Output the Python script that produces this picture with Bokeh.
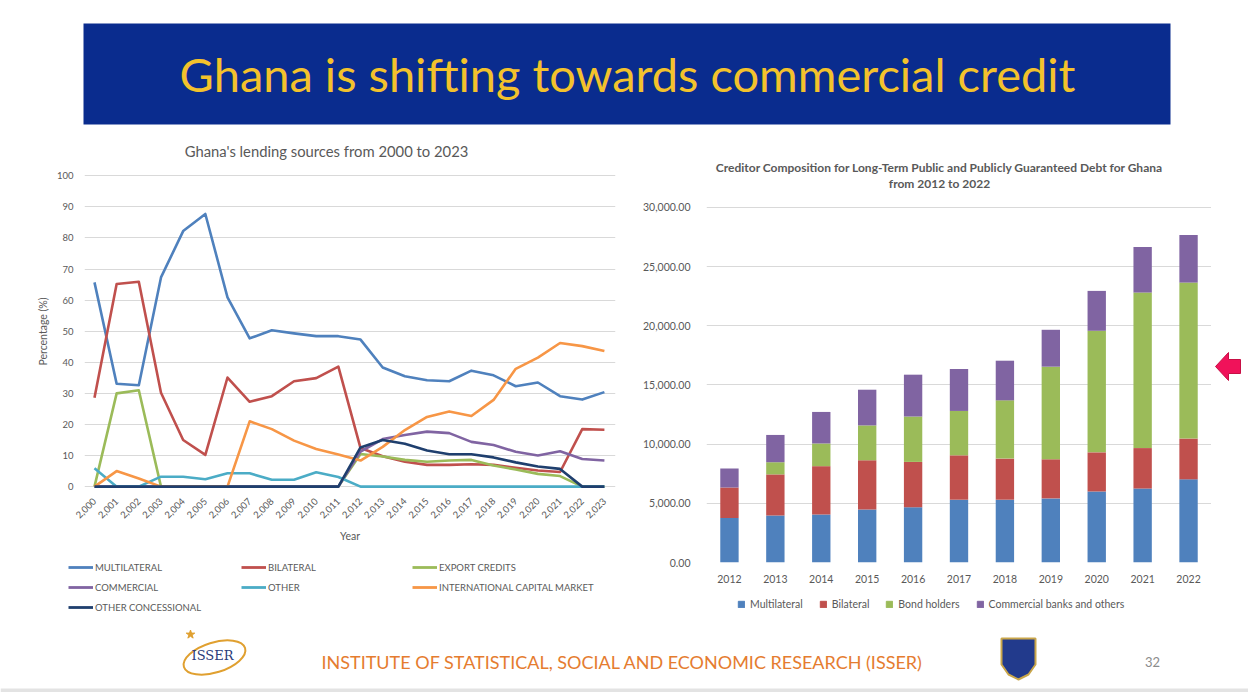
import math
from bokeh.plotting import figure
from bokeh.models import (Range1d, Legend, LegendItem, NumeralTickFormatter,
                          FixedTicker, ColumnDataSource, FactorRange)
from bokeh.layouts import column, row
from bokeh.embed import file_html
from bokeh.resources import INLINE
from bokeh.core.properties import value

# ---------------- data: left chart (percent of lending) ----------------
years = list(range(2000, 2024))
multilateral = [65.7, 33.1, 32.6, 67.3, 82.2, 87.7, 60.9, 47.7, 50.3, 49.3, 48.4, 48.4,
                47.3, 38.3, 35.5, 34.2, 33.9, 37.3, 35.8, 32.3, 33.5, 29.1, 28.0, 30.4]
bilateral = [28.6, 65.2, 65.9, 30.2, 15.0, 10.2, 35.1, 27.3, 29.1, 33.9, 34.9, 38.6,
             12.4, 9.8, 8.0, 7.0, 7.0, 7.2, 7.0, 6.1, 5.2, 4.7, 18.5, 18.3]
export_credits = [0.0, 30.0, 31.0, 0.0, 0.0, 0.0, 0.0, 0.0, 0.0, 0.0, 0.0, 0.0,
                  10.5, 9.7, 8.6, 8.0, 8.4, 8.6, 6.8, 5.5, 4.1, 3.4, 0.0, 0.0]
commercial = [0.0, 0.0, 0.0, 0.0, 0.0, 0.0, 0.0, 0.0, 0.0, 0.0, 0.0, 0.0,
              11.3, 15.3, 16.6, 17.7, 17.2, 14.4, 13.4, 11.2, 10.0, 11.4, 8.9, 8.4]
other = [5.9, 0.0, 0.0, 3.2, 3.2, 2.4, 4.3, 4.3, 2.2, 2.2, 4.6, 3.1,
         0.0, 0.0, 0.0, 0.0, 0.0, 0.0, 0.0, 0.0, 0.0, 0.0, 0.0, 0.0]
intl_capital_market = [0.0, 5.0, 2.6, 0.0, 0.0, 0.0, 0.0, 21.0, 18.5, 14.8, 12.1, 10.3,
                       8.4, 12.8, 18.2, 22.4, 24.2, 22.7, 27.9, 37.9, 41.5, 46.2, 45.2, 43.6]
other_concessional = [0.0, 0.0, 0.0, 0.0, 0.0, 0.0, 0.0, 0.0, 0.0, 0.0, 0.0, 0.0,
                      12.6, 15.0, 13.8, 11.6, 10.4, 10.4, 9.4, 7.8, 6.5, 5.7, 0.0, 0.0]
left_y_ticks = [0, 10, 20, 30, 40, 50, 60, 70, 80, 90, 100]

# ---------------- data: right chart (stacked bars) ----------------
bar_years = ["2012", "2013", "2014", "2015", "2016", "2017", "2018", "2019", "2020", "2021", "2022"]
bar_multilateral = [3750, 3975, 4058, 4475, 4667, 5306, 5306, 5417, 6000, 6250, 7028]
bar_bilateral = [2583, 3469, 4081, 4164, 3833, 3750, 3472, 3305, 3306, 3417, 3444]
bar_bond_holders = [0, 1028, 1917, 2944, 3833, 3750, 4922, 7823, 10273, 13142, 13180]
bar_commercial = [1611, 2306, 2666, 3017, 3537, 3542, 3351, 3118, 3370, 3848, 4017]
right_y_ticks = [0, 5000, 10000, 15000, 20000, 25000, 30000]

FONT = "Lato"
GREY = "#595959"


def blank(w, h, xr, yr):
    f = figure(width=w, height=h, x_range=Range1d(*xr), y_range=Range1d(*yr),
               output_backend="svg", toolbar_location=None, min_border=0,
               x_axis_location=None, y_axis_location=None, frame_align=False)
    f.grid.visible = False
    f.outline_line_color = None
    return f


# ---------------- top banner ----------------
top = blank(1248, 132, (0, 1248), (0, 132))
top.quad(left=[83], right=[1170], bottom=[8], top=[109], color="#0A2C8E", line_color=None)
top.text(x=[627], y=[59], text=["Ghana is shifting towards commercial credit"],
         text_align="center", text_baseline="middle", text_color="#F3C22C",
         text_font=value(FONT), text_font_size="47px")

# ---------------- left line chart ----------------
tL = blank(630, 30, (0, 630), (0, 30))
tL.text(x=[326], y=[12], text=["Ghana's lending sources from 2000 to 2023"],
        text_align="center", text_baseline="middle", text_color=GREY,
        text_font=value(FONT), text_font_size="14.8px")

pL = figure(width=630, height=390, x_range=Range1d(1999.55, 2023.5), y_range=Range1d(-0.6, 100.4),
            output_backend="svg", toolbar_location=None, frame_align=False, title=None,
            min_border_left=84, min_border_right=15, min_border_top=12, min_border_bottom=64)
pL.outline_line_color = None
pL.xgrid.visible = False
pL.ygrid.grid_line_color = "#D9D9D9"
pL.yaxis.ticker = FixedTicker(ticks=left_y_ticks)
pL.xaxis.ticker = FixedTicker(ticks=years)
pL.xaxis.formatter = NumeralTickFormatter(format="0,0")
pL.xaxis.major_label_orientation = math.pi / 4
pL.xaxis.axis_label = "Year"
pL.yaxis.axis_label = "Percentage (%)"
for ax in (pL.xaxis[0], pL.yaxis[0]):
    ax.axis_line_color = None
    ax.major_tick_line_color = None
    ax.minor_tick_line_color = None
    ax.major_label_text_font = FONT
    ax.major_label_text_font_size = "9.5px"
    ax.major_label_text_color = GREY
    ax.axis_label_text_font = FONT
    ax.axis_label_text_font_size = "10.5px"
    ax.axis_label_text_font_style = "normal"
    ax.axis_label_text_color = GREY

series = [
    ("MULTILATERAL", multilateral, "#4F81BD"),
    ("BILATERAL", bilateral, "#C0504D"),
    ("EXPORT CREDITS", export_credits, "#9BBB59"),
    ("COMMERCIAL", commercial, "#8064A2"),
    ("OTHER", other, "#4BACC6"),
    ("INTERNATIONAL CAPITAL MARKET", intl_capital_market, "#F79646"),
    ("OTHER CONCESSIONAL", other_concessional, "#1F3F6E"),
]
for name, vals, col in series:
    pL.line(years, vals, line_color=col, line_width=2.6, line_join="round")

# legend strip under the left chart (three columns placed like the original);
# its swatches come from off-screen proxy renderers of the same styles
legL = blank(630, 68, (0, 1), (0, 1))
proxy = {}
for name, vals, col in series:
    proxy[name] = legL.line(x=[-10, -9], y=[-10, -9], line_color=col, line_width=2.8)


def mk_legend(names, loc):
    return Legend(items=[LegendItem(label=n, renderers=[proxy[n]]) for n in names],
                  location=loc, orientation="vertical", border_line_color=None,
                  background_fill_alpha=0, padding=0, margin=0, spacing=0,
                  label_height=20, glyph_height=20, glyph_width=25, label_standoff=2,
                  label_text_font=FONT, label_text_font_size="9.5px", label_text_color=GREY)


legL.add_layout(mk_legend(["MULTILATERAL", "COMMERCIAL", "OTHER CONCESSIONAL"], (68, 3)))
legL.add_layout(mk_legend(["BILATERAL", "OTHER"], (241, 23)))
legL.add_layout(mk_legend(["EXPORT CREDITS", "INTERNATIONAL CAPITAL MARKET"], (412, 23)))

# ---------------- right stacked bar chart ----------------
tR = blank(581, 60, (0, 581), (0, 60))
tR.text(x=[309, 309], y=[25, 9],
        text=["Creditor Composition for Long-Term Public and Publicly Guaranteed Debt for Ghana",
              "from 2012 to 2022"],
        text_align="center", text_baseline="middle", text_color=GREY,
        text_font=value(FONT), text_font_size="12px", text_font_style="bold")

src = ColumnDataSource(dict(year=bar_years, multi=bar_multilateral, bil=bar_bilateral,
                            bond=bar_bond_holders, comm=bar_commercial))
pR = figure(width=581, height=403, x_range=FactorRange(*bar_years), y_range=Range1d(0, 30080),
            output_backend="svg", toolbar_location=None, frame_align=False, title=None,
            min_border_left=76, min_border_right=0, min_border_top=14, min_border_bottom=33)
pR.outline_line_color = None
pR.xgrid.visible = False
pR.ygrid.grid_line_color = "#D9D9D9"
pR.yaxis.ticker = FixedTicker(ticks=right_y_ticks)
pR.yaxis.formatter = NumeralTickFormatter(format="0,0.00")
for ax in (pR.xaxis[0], pR.yaxis[0]):
    ax.axis_line_color = None
    ax.major_tick_line_color = None
    ax.minor_tick_line_color = None
    ax.major_label_text_font = FONT
    ax.major_label_text_font_size = "10.5px"
    ax.major_label_text_color = GREY
pR.xaxis.major_label_standoff = 6
pR.yaxis.major_label_standoff = 10

bar_names = ["Multilateral", "Bilateral", "Bond holders", "Commercial banks and others"]
bar_cols = ["#4F81BD", "#C0504D", "#9BBB59", "#8064A2"]
pR.vbar_stack(["multi", "bil", "bond", "comm"], x="year", width=0.4, source=src,
              color=bar_cols, line_color=None)

legR = blank(581, 25, (0, 1), (0, 1))
proxR = [legR.vbar(x=[-10], top=[-9], bottom=-10, width=0.4, color=c) for c in bar_cols]
legR.add_layout(Legend(items=[LegendItem(label=n, renderers=[r]) for n, r in zip(bar_names, proxR)],
                       location=(107, 9), orientation="horizontal", border_line_color=None,
                       background_fill_alpha=0, padding=0, margin=0, spacing=16,
                       label_height=14, glyph_height=8, glyph_width=8, label_standoff=5,
                       label_text_font=FONT, label_text_font_size="10.5px", label_text_color=GREY))

# ---------------- red arrow beside the chart ----------------
pA = blank(37, 488, (0, 37), (0, 488))
pA.patch([4, 17, 17, 29, 29, 17, 17], [254, 268, 261, 261, 247, 247, 240],
         fill_color="#F0125A", line_color="#C70F45", line_width=1)

# ---------------- footer ----------------
foot = blank(1248, 72, (0, 1248), (0, 72))
foot.quad(left=[0], right=[1248], bottom=[0], top=[4], color="#E3E3E3", line_color=None)
foot.text(x=[622], y=[31], text=["INSTITUTE OF STATISTICAL, SOCIAL AND ECONOMIC RESEARCH (ISSER)"],
          text_align="center", text_baseline="middle", text_color="#E57C2F",
          text_font=value(FONT), text_font_size="18px")
foot.text(x=[1152], y=[31], text=["32"], text_align="center", text_baseline="middle",
          text_color="#8C8C8C", text_font=value(FONT), text_font_size="13px")
# ISSER logo approximation
foot.ellipse(x=[214], y=[35], width=[64], height=[30], angle=[0.3], fill_color=None,
             line_color="#E0A030", line_width=2)
foot.text(x=[212], y=[37], text=["ISSER"], text_align="center", text_baseline="middle",
          text_color="#2A3C7A", text_font=value("DejaVu Serif"), text_font_size="13px")
foot.scatter(x=[190], y=[58], marker="star", size=9, color="#E0A030")
# crest approximation
foot.patch([1001, 1035, 1035, 1028, 1018, 1008, 1001], [54, 54, 28, 18, 13, 18, 28],
           fill_color="#223A8C", line_color="#C9A64A", line_width=2)

layout = column(top, row(column(tL, pL, legL), column(tR, pR, legR), pA), foot)
open("out.html", "w").write(file_html(layout, INLINE))
